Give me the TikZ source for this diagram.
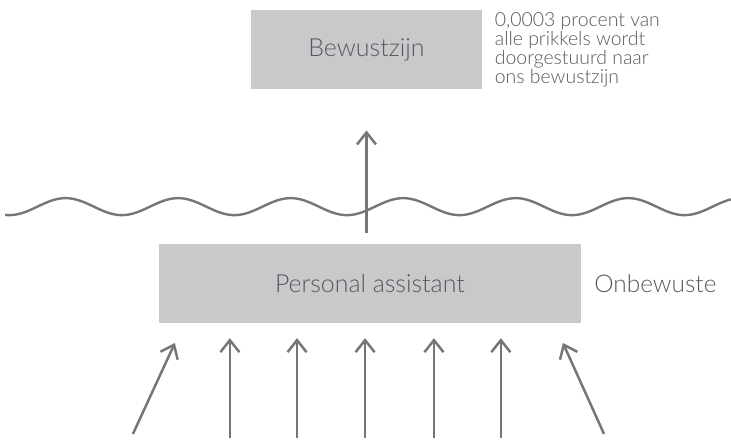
\documentclass[tikz,border=0pt]{standalone}
\usepackage{fontspec}
\IfFontExistsTF{Lato Light}{\setmainfont{Lato Light}}{\setmainfont{Lato}}
\definecolor{BoxGrey}{RGB}{200,201,203}
\definecolor{LineGrey}{RGB}{118,118,122}
\definecolor{TextGrey}{RGB}{88,88,92}
\usetikzlibrary{arrows.meta}
\usetikzlibrary{positioning}

\begin{document}
\begin{tikzpicture}[
  greybox/.style={fill=BoxGrey, text=TextGrey, minimum width=#1,
    minimum height=2.79cm, inner sep=0pt, font=\fontsize{25}{30}\selectfont},
  tekst/.style={text=TextGrey, inner sep=0pt},
  prikkel/.style={LineGrey, line width=2.5bp, -{Straight Barb[length=12bp, width=19bp]}},
  golf/.style={LineGrey, line width=2.4bp},
]

  \useasboundingbox (0,0) rectangle (25.79cm,15.49cm);

  % the two boxes
  \node[greybox=8.15cm] (bewust) at (12.93cm,13.74cm) {Bewustzijn};
  \node[greybox=14.89cm] (pa) at (13.05cm,5.49cm) {Personal assistant};

  \node[tekst, font=\fontsize{24.5}{29}\selectfont, right=0.46cm of pa] (onb) {Onbewuste};
  \node[tekst, font=\fontsize{19.5}{18.9}\selectfont, align=left, anchor=north west]
    (noot) at ([xshift=0.44cm, yshift=-0.1cm]bewust.north east)
    {0,0003 procent van\\alle prikkels wordt\\doorgestuurd naar\\ons bewustzijn};

  % the surface
  \draw[golf] plot[domain=0.18:25.79, samples=240, smooth]
    (\x,{8.20-0.30*cos(360*(\x-0.33)/3.97)});

  \draw[prikkel] ([yshift=0.39cm]pa.north -| bewust.south) -- ([yshift=-1.45cm]bewust.south);

  % incoming stimuli
  \foreach \x [count=\i] in {8.11,10.48,12.88,15.31,17.67} {
    \coordinate (in\i) at (\x cm,0.05cm);
    \coordinate (up\i) at (\x cm,3.56cm);
    \draw[prikkel] (in\i) -- (up\i);
  }
  \coordinate (inL) at (4.69cm,0.18cm);
  \coordinate (upL) at (6.17cm,3.39cm);
  \coordinate (inR) at (21.31cm,0.18cm);
  \coordinate (upR) at (19.86cm,3.39cm);
  \draw[prikkel] (inL) -- (upL);
  \draw[prikkel] (inR) -- (upR);

\end{tikzpicture}
\end{document}
